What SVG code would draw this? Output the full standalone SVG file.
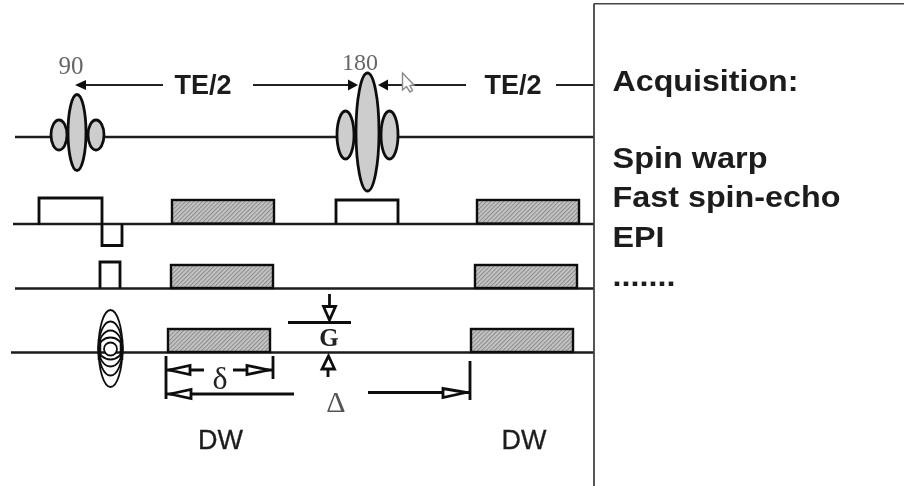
<svg xmlns="http://www.w3.org/2000/svg" width="904" height="486" viewBox="0 0 904 486">
<defs>
<pattern id="hatch" width="3" height="3" patternUnits="userSpaceOnUse" patternTransform="rotate(45)">
<rect width="3" height="3" fill="#c8c8c8"/><rect width="1.200" height="3" fill="#8e8e8e"/>
</pattern>
<filter id="soft" x="0" y="0" width="100%" height="100%"><feGaussianBlur stdDeviation="0.45"/></filter>
</defs>
<style>
.l{fill:none;stroke:#1c1c1c;stroke-width:2.300}
.d{fill:none;stroke:#111;stroke-width:2.800}
.t{fill:none;stroke:#111;stroke-width:2.800}
.thin{fill:none;stroke:#222;stroke-width:1.900}
.h{fill:url(#hatch);stroke:#111;stroke-width:2.400}
.e{fill:#cdcdcd;stroke:#111;stroke-width:2.800}
.oa{fill:#fff;stroke:#111;stroke-width:2.800}
.ba{fill:#111;stroke:none}
.s{font-family:"Liberation Sans",Arial,sans-serif;fill:#1c1c1c;stroke:#1c1c1c;stroke-width:0.300}
.b{font-family:"Liberation Sans",Arial,sans-serif;font-weight:bold;fill:#1c1c1c}
.r{font-family:"Liberation Serif","Times New Roman",serif;fill:#666}
</style>
<rect width="904" height="486" fill="#fff"/>
<g filter="url(#soft)">
<g id="connectors">
<path class="l" d="M15 137H594M13 224H594M15 288.500H594M11 352.500H594"/>
<path class="t" d="M39 225V198H102V245.500H122V224M100 288V262H120V288M336 224V200H398V224"/>
<path class="thin" d="M86 85H163M253 85H349M388 85H466M556 85H594"/>
<path class="ba" d="M75 85L86 80V90ZM358 85L348 79.500V90.500ZM378 85L388 79.500V90.500Z"/>
<path class="d" d="M166 356V399M273 356V379M470 361V400M204 370H166M273 370H233M294 394H166M368 392.500H470M329.500 294V320M288 322.500H351M328 369V377"/>
<path class="oa" d="M169 370L190 365.500V374.500ZM269 370L247 365.500V374.500ZM170 394L191 389.500V398.500ZM466 392.500L443 388.500V397.500ZM323.500 306.500H335.500L329.500 320ZM322 369H334.500L328.500 356Z"/>
</g>
<g id="n90"><text class="r" x="71" y="74" text-anchor="middle" font-size="25">90</text>
<ellipse class="e" cx="59" cy="135" rx="8" ry="15"/><ellipse class="e" cx="96" cy="135" rx="8" ry="15"/><ellipse class="e" cx="77" cy="132.500" rx="9" ry="38"/></g>
<g id="n180"><text class="r" x="360" y="70" text-anchor="middle" font-size="24">180</text>
<ellipse class="e" cx="345.500" cy="135" rx="8.500" ry="24"/><ellipse class="e" cx="389.500" cy="135" rx="8.500" ry="24"/><ellipse class="e" cx="367.500" cy="132" rx="11.500" ry="59"/></g>
<g id="cursor"><path fill="#fff" stroke="#888" stroke-width="1.400" d="M402.500 73V90L406.500 86.500L410 92L412.500 90.500L410 85.500L414 85Z"/></g>
<g id="te-left"><text class="b" x="203" y="94" text-anchor="middle" font-size="27">TE/2</text></g>
<g id="te-right"><text class="b" x="513" y="94" text-anchor="middle" font-size="27">TE/2</text></g>
<g id="dw-1"><rect class="h" x="172" y="200" width="102" height="23.500"/></g>
<g id="dw-2"><rect class="h" x="477" y="200" width="102" height="23.500"/></g>
<g id="dw-3"><rect class="h" x="171" y="265" width="102" height="23"/></g>
<g id="dw-4"><rect class="h" x="475" y="265" width="102" height="23"/></g>
<g id="dw-5"><rect class="h" x="168" y="329" width="102" height="23"/></g>
<g id="dw-6"><rect class="h" x="471" y="329" width="102" height="23"/></g>
<g id="coil" fill="none" stroke="#111" stroke-width="1.800">
<ellipse cx="110.500" cy="348.500" rx="12" ry="38.500"/><ellipse cx="110.500" cy="348.500" rx="12" ry="27"/><ellipse cx="110.500" cy="348.500" rx="12" ry="18"/><ellipse cx="110.500" cy="348.500" rx="12" ry="11"/>
<path stroke-width="3.500" d="M99.500 339V360M121.500 339V360"/><circle cx="110.500" cy="349" r="6.500" fill="#fff"/></g>
<g id="labels"><text x="220" y="389" text-anchor="middle" font-size="32" font-family="Liberation Serif,serif" fill="#222">δ</text>
<text x="329" y="346" text-anchor="middle" font-size="25" font-weight="bold" font-family="Liberation Serif,serif" fill="#222">G</text>
<text x="336" y="412" text-anchor="middle" font-size="30" font-family="Liberation Serif,serif" fill="#555">Δ</text>
<text class="s" x="220.500" y="449" text-anchor="middle" font-size="27">DW</text>
<text class="s" x="524" y="449" text-anchor="middle" font-size="27">DW</text></g>
<g id="acquisition"><path d="M594 3.500V486M594 3.500H904" fill="none" stroke="#444" stroke-width="1.800"/>
<g class="b" font-size="30"><text x="612.500" y="91" textLength="186" lengthAdjust="spacingAndGlyphs">Acquisition:</text><text x="612.500" y="168" textLength="155" lengthAdjust="spacingAndGlyphs">Spin warp</text><text x="612.500" y="207" textLength="228" lengthAdjust="spacingAndGlyphs">Fast spin-echo</text><text x="612.500" y="247" textLength="52" lengthAdjust="spacingAndGlyphs">EPI</text><text x="612.500" y="286" textLength="63" lengthAdjust="spacingAndGlyphs">.......</text></g></g>
</g>
</svg>
